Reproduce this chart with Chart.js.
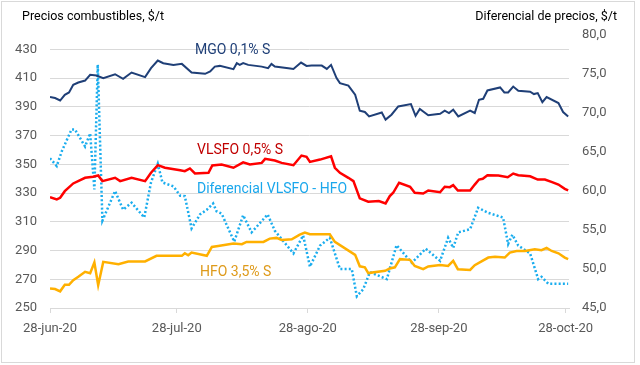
<!DOCTYPE html>
<html>
<head>
<meta charset="utf-8">
<script src="https://cdn.jsdelivr.net/npm/chart.js@4.4.1/dist/chart.umd.min.js"></script>
<style>
  html, body { margin: 0; padding: 0; background: #ffffff; }
  #wrap { position: relative; width: 640px; height: 365px; }
  #frame { position: absolute; left: 1px; top: 1px; width: 634px; height: 362px; box-sizing: border-box; border: 1px solid #D9D9D9; pointer-events: none; }
  canvas { position: absolute; left: 0; top: 0; }
</style>
</head>
<body>
<div id="wrap">
  <canvas id="c" width="640" height="365"></canvas>
  <div id="frame"></div>
</div>
<script>
// Days counted from 28-jun-20
const xTickDays = [0, 30, 61, 92, 122];
const xTickLabels = ["28-jun-20", "28-jul-20", "28-ago-20", "28-sep-20", "28-oct-20"];
const leftTicks = [250, 270, 290, 310, 330, 350, 370, 390, 410, 430];
const rightTicks = [45, 50, 55, 60, 65, 70, 75, 80];

const mgoDays = [0,1.2,2.4,3.5,4.5,5.5,6.7,8.3,9.5,11.0,12.6,15.4,17.3,19.3,22.5,23.9,25.5,26.8,29.2,31.2,33.5,36.7,37.9,39.0,40.2,43.4,44.2,44.9,45.7,46.9,50.1,51.6,52.4,53.2,56.4,57.6,59.4,60.7,61.9,64.3,65.5,66.5,67.8,68.6,70.6,72.2,73.3,74.5,75.5,78.5,79.4,80.8,82.4,85.4,86.5,87.5,89.5,92.3,93.4,94.4,95.4,96.6,99.4,100.5,101.5,102.5,103.5,106.5,107.5,108.4,109.6,110.8,113.6,114.5,115.4,116.5,117.5,120.3,121.4,122.6];
const mgoVals = [396.8,396.1,394.4,398.4,400.0,405.3,406.9,408.3,412.3,411.8,410.0,412.7,409.5,413.9,410.7,416.9,422.2,420.4,419.2,419.9,413.9,413.0,414.6,418.0,418.5,416.2,420.4,419.2,420.4,419.2,418.0,416.9,419.9,418.0,416.9,416.4,420.8,418.5,418.7,418.7,416.4,419.2,410.0,406.5,404.8,398.4,387.3,386.4,383.3,386.1,381.1,384.5,390.3,391.9,383.8,388.5,384.1,385.2,387.3,385.7,388.0,383.3,387.3,385.7,394.9,395.6,401.4,403.5,400.0,400.0,404.1,401.2,400.5,398.9,399.6,393.3,396.8,392.6,386.4,383.3];

const vlsfoDays = [0,1.6,2.4,3.5,5.5,8.3,10.2,11.4,12.4,15.4,16.6,19.3,22.5,23.9,25.5,27.2,30.8,31.9,33.1,34.3,37.5,38.4,40.6,43.4,45.7,47.3,50.1,50.9,53.2,54.8,57.6,59.5,60.7,61.5,63.9,66.5,67.4,68.6,70.6,71.8,73.3,75.3,77.8,79.4,80.4,81.2,82.6,85.2,86.3,88.3,89.5,92.3,93.4,94.6,95.4,96.5,99.4,100.5,101.5,102.4,103.5,106.1,108.3,109.6,110.8,113.6,115.4,117.1,118.8,120.3,121.8,122.6];
const vlsfoVals = [327.2,325.6,326.7,331.3,336.7,340.6,341.3,342.2,338.3,340.6,338.3,340.6,338.3,344.1,349.4,347.6,345.9,345.2,347.1,343.6,344.1,349.2,349.9,347.6,351.4,349.9,351.0,353.8,352.6,351.0,349.4,356.1,355.2,351.7,353.3,355.6,347.6,344.1,340.6,338.3,326.3,324.0,324.4,322.8,327.9,330.2,337.2,334.4,330.2,329.7,331.8,330.6,334.4,334.1,335.5,331.8,331.8,335.9,339.4,339.9,342.4,342.2,341.0,343.6,342.4,341.7,339.4,339.4,337.6,335.9,332.9,331.8];

const hfoDays = [0,1.2,2.4,3.5,4.5,5.5,6.7,8.3,9.5,10.5,11.4,12.6,16.2,18.5,22.5,25.2,28.0,31.2,31.9,32.7,33.5,37.1,38.3,39.8,43.4,45.4,46.5,50.5,52.0,53.6,54.8,57.2,59.1,60.3,61.5,66.2,67.4,72.2,73.3,74.5,75.3,79.3,80.4,81.6,82.8,85.2,86.3,88.3,89.5,92.3,94.2,95.4,96.5,99.4,100.5,102.1,103.7,105.3,107.6,108.8,110.4,112.4,114.7,116.3,117.5,118.7,120.3,121.8,122.6];
const hfoVals = [263.6,263.2,261.6,266.1,266.1,269.4,271.7,275.2,274.2,281.7,265.9,282.1,280.5,282.4,282.4,286.3,286.3,286.3,288.1,286.7,288.6,286.3,292.5,293.2,294.9,294.4,296.0,296.0,298.3,298.8,297.4,297.8,301.1,302.5,301.3,301.3,296.0,287.0,279.0,278.3,274.3,275.9,277.5,278.3,284.0,283.5,279.3,277.0,278.9,280.0,279.3,282.8,277.0,276.5,279.8,282.4,285.1,285.6,285.1,288.6,289.7,289.7,290.9,290.2,291.8,289.7,288.1,285.1,284.0];

const diffDays = [0,1.6,2.8,5.1,5.9,8.3,9.5,10.5,11.3,12.4,15.4,17.3,19.3,22.3,23.9,25.5,26.6,29.2,30.8,31.9,33.5,35.5,37.1,38.6,39.4,40.6,43.6,45.7,47.7,51.5,53.2,57.6,59.9,61.5,63.9,66.2,68.6,71.4,72.6,74.1,75.7,79.7,82.0,85.6,88.9,92.3,94.2,95.4,96.6,99.4,101.3,103.7,107.2,108.4,109.4,110.8,113.6,115.5,116.3,117.9,122.6];
const diffVals = [64.2,63.2,65.1,67.9,67.9,65.7,67.4,60.2,76.2,56.2,60.0,57.6,58.5,56.6,61.1,63.5,61.1,60.6,59.4,59.35,55.2,57.0,57.6,58.4,57.4,57.1,53.5,56.9,54.7,57.0,54.9,52.0,54.3,50.3,53.0,54.0,50.0,50.0,46.5,47.4,49.6,48.7,53.05,50.8,52.6,51.05,54.0,52.7,54.7,55.1,57.85,57.2,56.6,53.2,54.4,53.0,52.0,48.7,49.0,48.1,48.1];

function pts(days, vals) { return days.map((d, i) => ({ x: d, y: vals[i] })); }

const FONT = "Roboto";
const GRAY = "#595959";
const GRID = "#D9D9D9";

const annotations = {
  id: "annotations",
  afterDatasetsDraw(chart) {
    const ctx = chart.ctx;
    ctx.save();
    ctx.textBaseline = "middle";
    ctx.textAlign = "left";
    ctx.font = "12.5px " + FONT;
    ctx.fillStyle = "#000000";
    ctx.fillText("Precios combustibles, $/t", 22, 17);
    ctx.textAlign = "right";
    ctx.fillText("Diferencial de precios, $/t", 617, 17);
    ctx.textAlign = "left";
    ctx.font = "14px " + FONT;
    ctx.fillStyle = "#1F3F77"; ctx.fillText("MGO 0,1% S", 195, 50);
    ctx.fillStyle = "#C00000"; ctx.fillText("VLSFO 0,5% S", 197, 150);
    ctx.fillStyle = "#1AA7EC"; ctx.fillText("Diferencial VLSFO - HFO", 197, 189);
    ctx.fillStyle = "#DE9A1A"; ctx.fillText("HFO 3,5% S", 200, 272);
    ctx.restore();
  }
};

new Chart(document.getElementById("c"), {
  type: "line",
  data: {
    datasets: [
      { label: "MGO 0,1% S", data: pts(mgoDays, mgoVals), yAxisID: "y", borderColor: "#1F3F77", borderWidth: 2, pointRadius: 0, tension: 0 },
      { label: "VLSFO 0,5% S", data: pts(vlsfoDays, vlsfoVals), yAxisID: "y", borderColor: "#FF0000", borderWidth: 2.5, pointRadius: 0, tension: 0 },
      { label: "HFO 3,5% S", data: pts(hfoDays, hfoVals), yAxisID: "y", borderColor: "#FFB000", borderWidth: 2.5, pointRadius: 0, tension: 0 },
      { label: "Diferencial VLSFO - HFO", data: pts(diffDays, diffVals), yAxisID: "y2", borderColor: "#1AADEE", borderWidth: 2.5, borderDash: [2, 2.2], pointRadius: 0, tension: 0 }
    ]
  },
  options: {
    responsive: false,
    animation: false,
    layout: { padding: { top: 35, left: 0, right: 0, bottom: 0 } },
    plugins: { legend: { display: false }, tooltip: { enabled: false } },
    scales: {
      x: {
        type: "linear",
        min: 0,
        max: 122.8,
        afterBuildTicks(s) { s.ticks = xTickDays.map(v => ({ value: v })); },
        afterFit(s) { s.height = 57; },
        ticks: {
          autoSkip: false, maxRotation: 0, minRotation: 0, padding: 8,
          color: GRAY, font: { family: FONT, size: 13 },
          callback(v) { const i = xTickDays.indexOf(v); return i >= 0 ? xTickLabels[i] : ""; }
        },
        grid: { drawOnChartArea: false, drawTicks: true, tickLength: 5, color: GRID },
        border: { display: true, color: GRID, width: 1 }
      },
      y: {
        position: "left",
        min: 250,
        max: 440,
        afterBuildTicks(s) { s.ticks = leftTicks.map(v => ({ value: v })); },
        afterFit(s) { s.width = 50; },
        ticks: { padding: 13, color: GRAY, font: { family: FONT, size: 13 }, callback(v) { return String(v); } },
        grid: { color: GRID, lineWidth: 1, drawTicks: false },
        border: { display: false }
      },
      y2: {
        position: "right",
        min: 45,
        max: 80,
        afterBuildTicks(s) { s.ticks = rightTicks.map(v => ({ value: v })); },
        afterFit(s) { s.width = 71; },
        ticks: { padding: 13, color: GRAY, font: { family: FONT, size: 13 }, callback(v) { return v.toFixed(1).replace(".", ","); } },
        grid: { display: false, drawOnChartArea: false, drawTicks: false },
        border: { display: false }
      }
    }
  },
  plugins: [annotations]
});
</script>
</body>
</html>
